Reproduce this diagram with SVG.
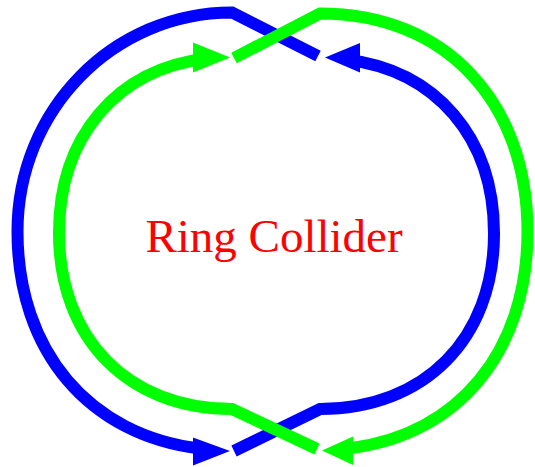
<svg xmlns="http://www.w3.org/2000/svg" width="535" height="467" viewBox="0 0 535 467">
<style>
.blue{fill:none;stroke:#0000FF;stroke-width:12}
.green{fill:none;stroke:#00FF00;stroke-width:12}
.bh{fill:#0000FF}
.gh{fill:#00FF00}
.label{font-family:"Liberation Serif","Times New Roman",serif;font-size:47px;fill:#FF0000}
</style>
<rect width="535" height="467" fill="#FFFFFF"/>
<g id="connectors">
<g id="blue-beam">
<path class="blue" d="M318,56 L232,12.5 C113,12.5 17.5,110 17.5,231.5 C17.5,351.7 89.3,435.3 200.3,448.6"/>
<polygon class="bh" points="193,437.5 230,451 193,465.5"/>
<path class="blue" d="M234,451 L320,409 C424.4,409 494,338.8 494,233.5 C494,137.2 435.7,70.2 345.7,59.5"/>
<polygon class="bh" points="360,43 325,57.5 360,72.5"/>
</g>
<g id="green-beam">
<path class="green" d="M234,58 L320,13.5 C444.5,13.5 527.5,100.8 527.5,231.75 C527.5,351.6 458,434.9 350.7,448.1"/>
<polygon class="gh" points="353,436.5 322,450.5 353,465"/>
<path class="green" d="M317,449 L232,409 C128.2,409 59,338.6 59,233 C59,136.4 116.9,69.2 206.5,58.5"/>
<polygon class="gh" points="193,42.5 230,57.5 193,72.5"/>
</g>
</g>
<g id="ring-collider">
<text class="label" x="274" y="252" text-anchor="middle">Ring Collider</text>
</g>
</svg>
